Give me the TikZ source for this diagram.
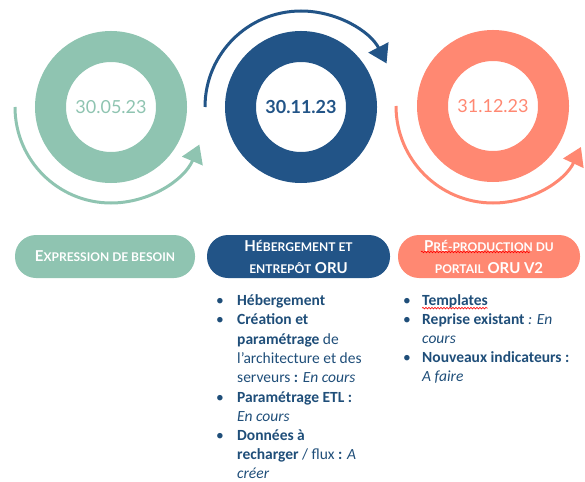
\documentclass[tikz,border=0pt]{standalone}
\usepackage{fontspec}
\setmainfont{Carlito}
\newfontfamily\headfont{Lato}
\usetikzlibrary{arrows.meta,decorations.pathmorphing}
\definecolor{cgreen}{HTML}{8FC4B1}
\definecolor{cblue}{HTML}{225487}
\definecolor{csalmon}{HTML}{FF8872}
\definecolor{ctext}{HTML}{1F4E79}
\newcommand\bigc[1]{{\fontsize{15}{22}\selectfont #1}}
\newcommand\smc[1]{{\fontsize{12}{22}\selectfont #1}}
\begin{document}
\begin{tikzpicture}[x=1pt,y=-1pt,
  ring/.style={circle, line width=31pt, minimum size=121pt, inner sep=0pt,
    font=\headfont\fontsize{18}{20}\selectfont},
  cycarrow/.style={line width=3pt, -{Triangle[length=18pt,width=22pt]}},
  pill/.style={rectangle, rounded corners=21pt, minimum height=43pt, text=white,
    align=center, inner sep=0pt, font=\headfont\bfseries\fontsize{15}{22}\selectfont},
  btxt/.style={anchor=base west, inner sep=0pt, text=ctext, font=\fontsize{15.5}{19}\selectfont},
  bul/.style={anchor=base, inner sep=0pt, text=ctext, font=\fontsize{15.5}{19}\selectfont},
  spell/.style={draw=red, line width=0.6pt, decorate, decoration={snake, amplitude=0.8pt, segment length=3pt}}
]
\useasboundingbox (0,0) rectangle (585,481);

% rings
\node[ring, draw=cgreen, text=cgreen] (r1) at (111,107) {30.05.23};
\node[ring, draw=cblue, text=cblue] (r2) at (301,107) {\bfseries 30.11.23};
\node[ring, draw=csalmon, text=csalmon] (r3) at (493,106) {31.12.23};

% cycle arrows
\draw[cycarrow, cgreen] ([shift={(180:96)}]r1.center) arc[start angle=180, end angle=23, radius=96];
\draw[cycarrow, cblue] ([shift={(180:96)}]r2.center) arc[start angle=180, end angle=333, radius=96];
\draw[cycarrow, csalmon] ([shift={(180:97)}]r3.center) arc[start angle=180, end angle=25, radius=97];

% pills
\node[pill, fill=cgreen, minimum width=180pt] (p1) at (105,256.5)
  {\bigc{E}\smc{XPRESSION DE BESOIN}};
\node[pill, fill=cblue, minimum width=183pt] (p2) at (298.5,256.5)
  {\bigc{H}\smc{ÉBERGEMENT ET}\\\smc{ENTREPÔT} \bigc{ORU}};
\node[pill, fill=csalmon, minimum width=182pt] (p3) at (489,256.5)
  {\bigc{P}\smc{RÉ-PRODUCTION DU}\\\smc{PORTAIL} \bigc{ORU V2}};
\coordinate (sq1a) at (421,252);
\coordinate (sq1b) at (530,252);
\draw[spell] (sq1a) -- (sq1b);

% column 2 bullets
\node[bul] (b21) at (220,305) {•};
\node[bul] (b22) at (220,324.5) {•};
\node[bul] (b23) at (220,402) {•};
\node[bul] (b24) at (220,440.5) {•};
\node[btxt] (t21) at (237,305) {\textbf{Hébergement}};
\node[btxt] (t22) at (237,324.5) {\textbf{Création et}};
\node[btxt] (t23) at (237,344) {\textbf{paramétrage} de};
\node[btxt] (t24) at (237,363.3) {l’architecture et des};
\node[btxt] (t25) at (237,382.6) {serveurs \textbf{:} \textit{En cours}};
\node[btxt] (t26) at (237,402) {\textbf{Paramétrage ETL :}};
\node[btxt] (t27) at (237,421.2) {\textit{En cours}};
\node[btxt] (t28) at (237,440.5) {\textbf{Données à}};
\node[btxt] (t29) at (237,459.8) {\textbf{recharger} / flux \textbf{:} \textit{A}};
\node[btxt] (t2a) at (237,478.5) {\textit{créer}};

% column 3 bullets
\node[bul] (b31) at (407,305) {•};
\node[bul] (b32) at (407,324) {•};
\node[bul] (b33) at (407,362) {•};
\node[btxt] (t31) at (422,305) {\textbf{Templates}};
\node[btxt] (t32) at (422,324) {\textbf{Reprise existant} \textit{: En}};
\node[btxt] (t33) at (422,343) {\textit{cours}};
\node[btxt] (t34) at (422,362) {\textbf{Nouveaux indicateurs :}};
\node[btxt] (t35) at (422,381) {\textit{A faire}};
\coordinate (sq2a) at ([yshift=-0.5pt]t31.south west);
\coordinate (sq2b) at ([yshift=-0.5pt]t31.south east);
\draw[spell] (sq2a) -- (sq2b);
\end{tikzpicture}
\end{document}
